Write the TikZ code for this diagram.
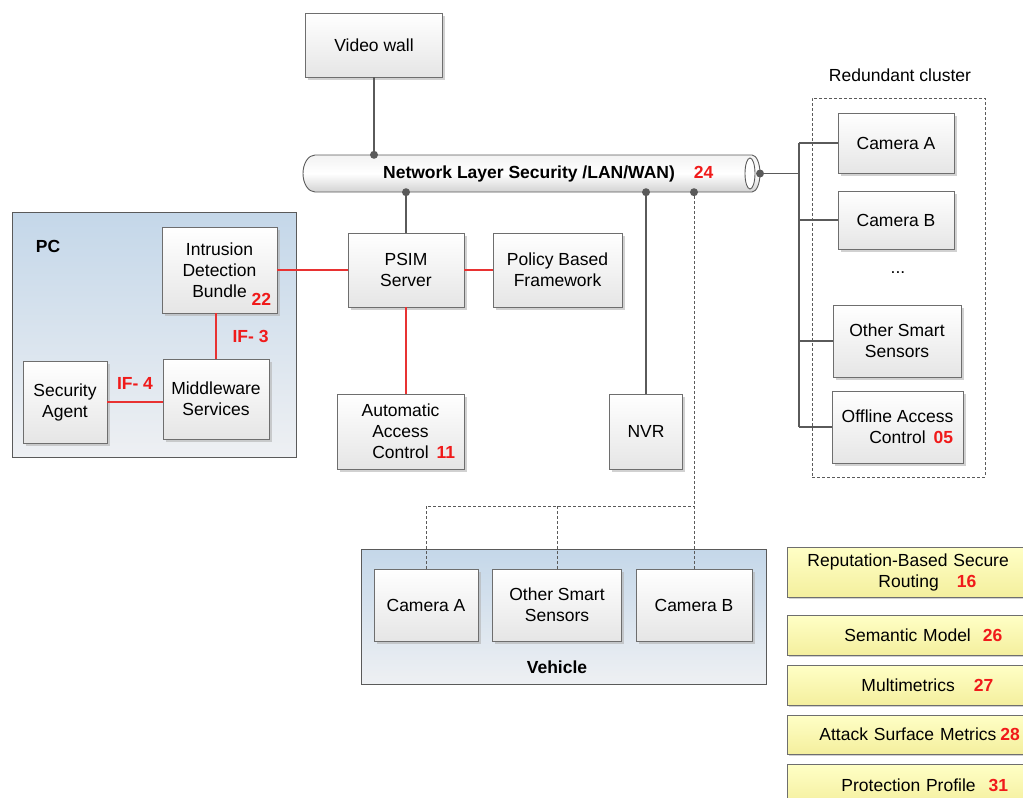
\documentclass[tikz,border=0pt]{standalone}
\usepackage{fontspec}
\setmainfont{Liberation Sans}
\usetikzlibrary{shadows}
\definecolor{linec}{HTML}{5A5A5A}
\definecolor{boxline}{HTML}{6E6E6E}
\definecolor{redc}{HTML}{F01A1A}
\definecolor{redline}{HTML}{E83232}
\definecolor{pctop}{HTML}{C4D7E9}
\definecolor{pcbot}{HTML}{EEF0F3}
\definecolor{ytop}{HTML}{FFFFC6}
\definecolor{ybot}{HTML}{F4EF9E}
\newcommand\rn[1]{\textcolor{redc}{\bfseries #1}}
\begin{document}
\begin{tikzpicture}[x=1pt,y=-1pt,
  every node/.style={font=\fontsize{17.5}{21}\selectfont, inner sep=0pt, text=black},
  box/.style={draw=boxline, line width=0.9pt, top color=white, bottom color=gray!20,
    drop shadow={shadow xshift=2.5pt, shadow yshift=-2.5pt, fill=black!30, opacity=0.6}, align=center},
  container/.style={draw=linec, line width=0.9pt, top color=pctop, bottom color=pcbot},
  ybox/.style={draw=boxline, line width=0.9pt, top color=ytop, bottom color=ybot, anchor=west,
    minimum width=260pt, text width=260pt, align=left,
    drop shadow={shadow xshift=2pt, shadow yshift=-2pt, fill=black!30, opacity=0.6}},
  cluster/.style={draw=linec, dashed, dash pattern=on 3pt off 2pt, line width=0.7pt},
  conn/.style={draw=linec, line width=1.2pt},
  redconn/.style={draw=redline, line width=1.1pt},
  dconn/.style={draw=linec, line width=0.9pt, dash pattern=on 3pt off 2pt},
  dot/.style={fill=linec},
  bold/.style={font=\fontsize{17.5}{21}\selectfont\bfseries},
  iflab/.style={font=\fontsize{17.5}{21}\selectfont\bfseries, text=redc}
]
\clip (0,0) rectangle (1023,798);

% containers
\node[container, minimum width=284pt, minimum height=245pt] (pc) at (154,334.5) {};
\node[bold] (pclab) at (48,246) {PC};
\node[container, minimum width=405pt, minimum height=135pt] (veh) at (563.5,616.5) {};
\node[bold] (vehlab) at (557,667) {Vehicle};
\node[cluster, minimum width=173pt, minimum height=379pt] (clu) at (898.5,287.5) {};
\node (clulab) at (900,75) {Redundant cluster};

% network pipe
\shade[top color=gray!10, bottom color=gray!35, middle color=white, draw=linec, line width=0.9pt]
  (315,155) -- (752,155) arc[start angle=90, end angle=-90, x radius=8pt, y radius=18.5pt]
  -- (315,192) arc[start angle=270, end angle=90, x radius=12pt, y radius=18.5pt] -- cycle;
\draw[linec, line width=0.9pt, fill=white] (750,173.5) ellipse [x radius=5pt, y radius=15.5pt];
\node[minimum width=457pt, minimum height=37pt, bold] (net) at (529,173.5)
  {Network Layer Security /LAN/WAN)\rlap{\hspace{19pt}\textcolor{redc}{24}}};

% boxes
\node[box, minimum width=137pt, minimum height=64pt] (vw) at (374,45) {Video wall};
\node[box, minimum width=116pt, minimum height=74pt] (psim) at (406,270) {PSIM\\Server};
\node[box, minimum width=129pt, minimum height=74pt] (pbf) at (557.5,270) {Policy Based\\Framework};
\node[box, minimum width=127pt, minimum height=75pt] (aac) at (400.5,431.5)
  {Automatic\\Access\\Control\rlap{\hspace{8pt}\rn{11}}};
\node[box, minimum width=73pt, minimum height=75pt] (nvr) at (646,431.5) {NVR};
\node[box, minimum width=115pt, minimum height=86pt] (idb) at (219.5,270)
  {Intrusion\\Detection\\Bundle\rlap{\hspace{5pt}\raisebox{-8pt}[0pt][0pt]{\rn{22}}}};
\node[box, minimum width=106pt, minimum height=80pt] (mw) at (216,399) {Middleware\\Services};
\node[box, minimum width=84pt, minimum height=82pt] (sa) at (65,402) {Security\\Agent};

\node[box, minimum width=116pt, minimum height=60pt] (rcA) at (896,143) {Camera A};
\node[box, minimum width=116pt, minimum height=58pt] (rcB) at (896,220) {Camera B};
\node (dots) at (898,273) {...};
\node[box, minimum width=128pt, minimum height=72pt] (rcO) at (897,341) {Other Smart\\Sensors};
\node[box, minimum width=131pt, minimum height=72pt] (rcOff) at (897.5,427)
  {Offline Access\\Control\rlap{\hspace{8pt}\rn{05}}};

\node[box, minimum width=104pt, minimum height=72pt] (vA) at (426,605) {Camera A};
\node[box, minimum width=129pt, minimum height=72pt] (vO) at (557,605) {Other Smart\\Sensors};
\node[box, minimum width=116pt, minimum height=72pt] (vB) at (694,605) {Camera B};

% yellow boxes
\node[ybox, minimum height=50pt] (y1) at (787,572)
  {\hspace*{20pt}Reputation-Based Secure\\\hspace*{91pt}Routing\hspace{18pt}\rn{16}};
\node[ybox, minimum height=40pt] (y2) at (787,635) {\hspace*{57pt}Semantic Model\hspace{12pt}\rn{26}};
\node[ybox, minimum height=40pt] (y3) at (787,685) {\hspace*{74pt}Multimetrics\hspace{19pt}\rn{27}};
\node[ybox, minimum height=39pt] (y4) at (787,734.5) {\hspace*{32pt}Attack Surface Metrics\hspace{4pt}\rn{28}};
\node[ybox, minimum height=42pt] (y5) at (787,785) {\hspace*{54pt}Protection Profile\hspace{13pt}\rn{31}};

% connectors to network
\draw[conn] (vw.south) -- (vw.south |- net.north);
\fill[dot] (vw.south |- net.north) circle[radius=4pt];
\draw[conn] (psim.north) -- (psim.north |- net.south);
\fill[dot] (psim.north |- net.south) circle[radius=4pt];
\draw[conn] (nvr.north) -- (nvr.north |- net.south);
\fill[dot] (nvr.north |- net.south) circle[radius=4pt];

% vehicle dashed connections
\coordinate (vbus) at (694,506);
\draw[dconn] (vB.north) -- (vB.north |- net.south);
\draw[dconn] (vA.north) -- (vA.north |- vbus) -- (vbus);
\draw[dconn] (vO.north) -- (vO.north |- vbus);
\fill[dot] (vB.north |- net.south) circle[radius=4pt];

% red connectors
\draw[redconn] (idb.east) -- (psim.west);
\draw[redconn] (psim.east) -- (pbf.west);
\draw[redconn] (psim.south) -- (psim.south |- aac.north);
\draw[redconn] (idb.south -| mw.north) -- node[iflab, right=16pt] {IF- 3} (mw.north);
\draw[redconn] (sa.east) -- node[iflab, above=12pt] {IF- 4} (sa.east -| mw.west);

% redundant cluster bus
\coordinate (bustop) at (799,143);
\coordinate (busbot) at (799,427);
\coordinate (netend) at (760,173.5);
\draw[conn] (netend) -- (netend -| bustop);
\draw[conn] (bustop) -- (busbot);
\draw[conn] (bustop) -- (rcA.west);
\draw[conn] (rcB.west -| bustop) -- (rcB.west);
\draw[conn] (rcO.west -| bustop) -- (rcO.west);
\draw[conn] (busbot) -- (rcOff.west);
\fill[dot] (netend) circle[radius=4pt];
\end{tikzpicture}
\end{document}
